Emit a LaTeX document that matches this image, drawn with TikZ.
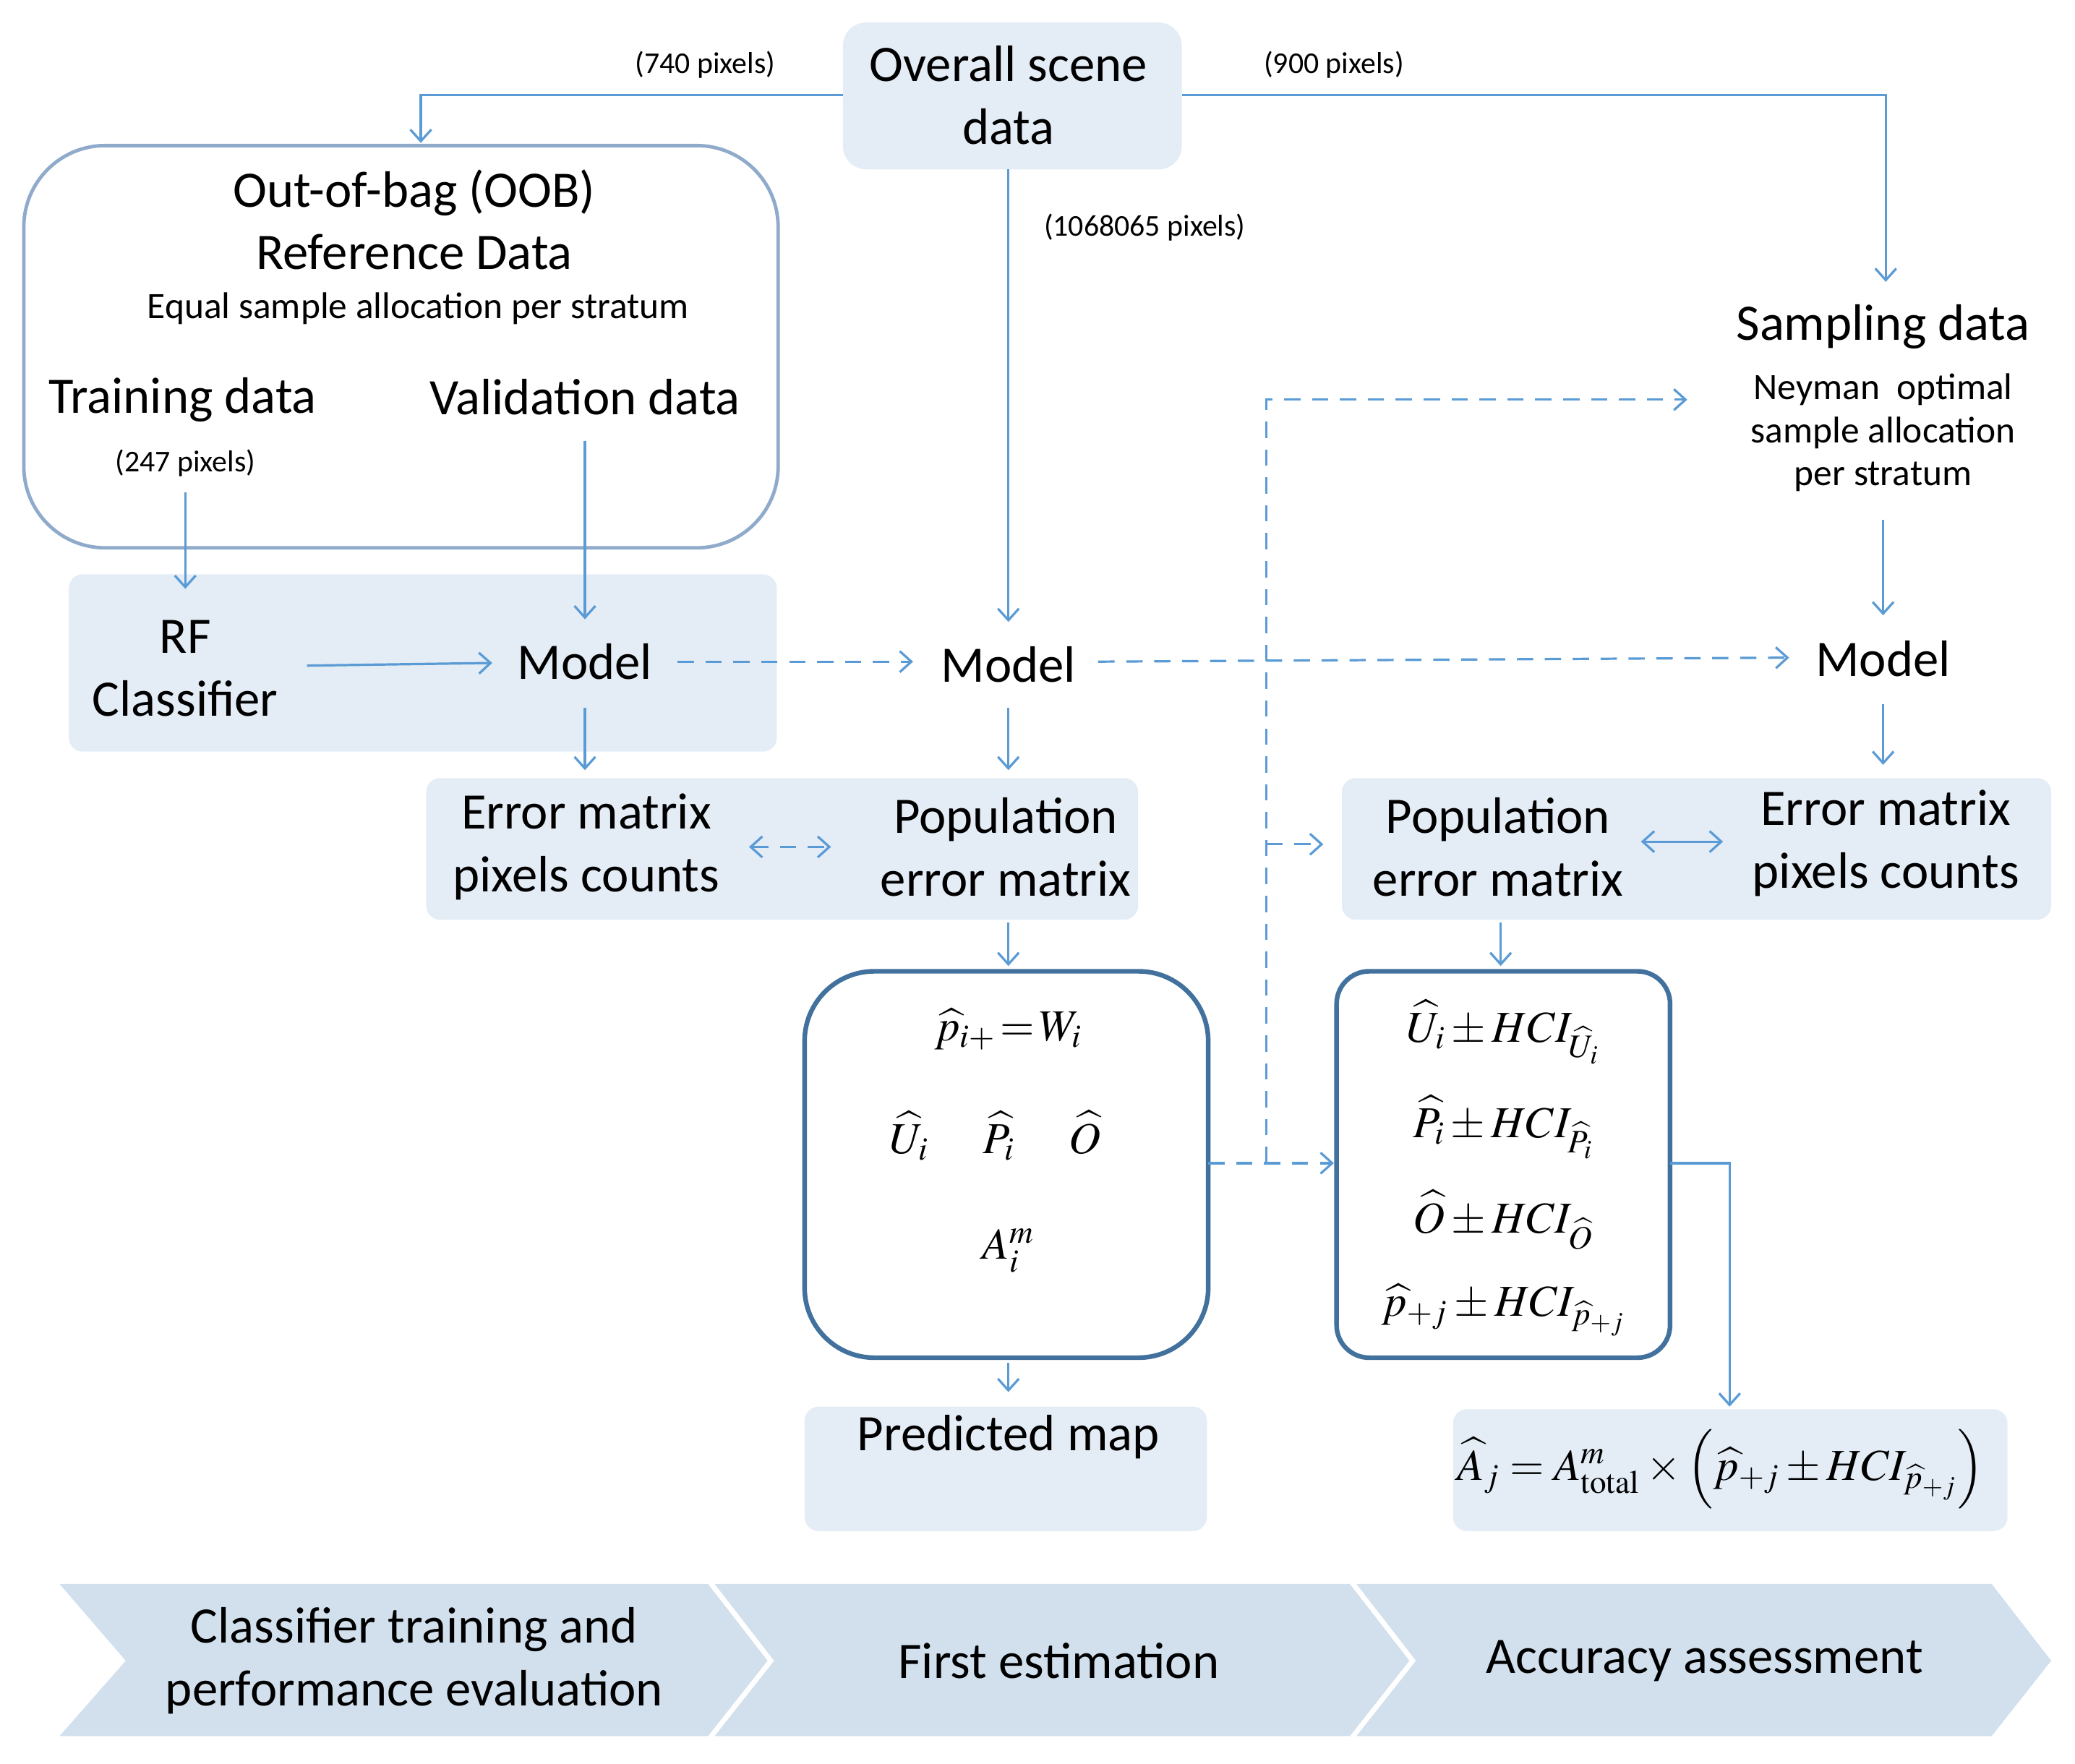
\documentclass[tikz,border=0pt]{standalone}
\usepackage{mathptmx}
\usepackage{fontspec}
\setmainfont{Carlito}
\usetikzlibrary{arrows.meta}
\definecolor{ar}{HTML}{5B9BD5}
\definecolor{pan}{HTML}{E4ECF6}
\definecolor{chev}{HTML}{D2E0EE}
\definecolor{bx}{HTML}{41719C}
\definecolor{ob}{HTML}{8FAACB}
\tikzset{
 x=0.02cm,y=-0.02cm,
 a/.style={draw=ar,line width=1pt,-{Straight Barb[length=5pt,width=9pt]}},
 da/.style={a,dashed,dash pattern=on 7pt off 5pt},
 pn/.style={fill=pan,rounded corners=6pt},
 t/.style={font=\fontsize{22}{27}\selectfont,align=center},
 s/.style={font=\fontsize{13}{15}\selectfont,align=center},
 m/.style={font=\fontsize{19}{23}\selectfont},
}
\begin{document}
\begin{tikzpicture}
\useasboundingbox (0,0) rectangle (1568,1333);
% panels
\fill[pan,rounded corners=10pt] (637,17) rectangle (893,128);
\fill[pn] (52,434) rectangle (587,568);
\fill[pn] (322,588) rectangle (860,695);
\fill[pn] (1014,588) rectangle (1550,695);
\fill[pn] (608,1063) rectangle (912,1157);
\fill[pn] (1098,1065) rectangle (1517,1157);
\draw[ob,line width=1.5pt,rounded corners=35pt] (18,110) rectangle (588,414);
\draw[bx,line width=2pt,rounded corners=30pt] (608,734) rectangle (913,1026);
\draw[bx,line width=2pt,rounded corners=14pt] (1010,734) rectangle (1262,1026);
% chevrons
\fill[chev] (45,1197) -- (535,1197) -- (580,1255) -- (535,1312) -- (45,1312) -- (95,1255) -- cycle;
\fill[chev] (540,1197) -- (1020,1197) -- (1065,1255) -- (1020,1312) -- (540,1312) -- (585,1255) -- cycle;
\fill[chev] (1025,1197) -- (1505,1197) -- (1550,1255) -- (1505,1312) -- (1025,1312) -- (1070,1255) -- cycle;
\node[t] (c1) at (313,1255) {Classifier training and\\performance evaluation};
\node[t] (c2) at (800,1255) {First estimation};
\node[t] (c3) at (1288,1255) {Accuracy assessment};
% texts
\node[t] (ov) at (762,72) {Overall scene\\data};
\node[t] (oob) at (313,166) {Out-of-bag (OOB)\\Reference Data};
\node[font=\fontsize{16}{18}\selectfont] (eq) at (316,233) {Equal sample allocation per stratum};
\node[t] (tr) at (138,302) {Training data};
\node[t] (va) at (442,300) {Validation data};
\node[s] (p247) at (140,350) {(247 pixels)};
\node[s] (p740) at (533,49) {(740 pixels)};
\node[s] (p900) at (1008,49) {(900 pixels)};
\node[s] (p106) at (865,172) {(1068065 pixels)};
\node[t] (rf) at (140,505) {RF\\Classifier};
\node[t] (m1) at (442,500) {Model};
\node[t] (m2) at (762,502) {Model};
\node[t] (m3) at (1423,498) {Model};
\node[t] (sd) at (1423,247) {Sampling data};
\node[font=\fontsize{16}{18.5}\selectfont,align=center] (ney) at (1423,327) {Neyman\ \ optimal\\sample allocation\\per stratum};
\node[t] (e1) at (443,640) {Error matrix\\pixels counts};
\node[t] (pe1) at (760,640) {Population\\error matrix};
\node[t] (pe2) at (1132,640) {Population\\error matrix};
\node[t] (e2) at (1425,637) {Error matrix\\pixels counts};
\node[t] (pm) at (762,1086) {Predicted map};
\node[m] (f1) at (762,778) {$\widehat{p}_{i+}\!=\!W_i$};
\node[m] (f2) at (752,858) {$\widehat{U}_i\quad\ \widehat{P}_i\quad\ \widehat{O}$};
\node[m] (f3) at (762,945) {$A_i^m$};
\node[m] (g1) at (1136,780) {$\widehat{U}_i\pm HCI_{\widehat{U}_i}$};
\node[m] (g2) at (1136,852) {$\widehat{P}_i\pm HCI_{\widehat{P}_i}$};
\node[m] (g3) at (1136,922) {$\widehat{O}\pm HCI_{\widehat{O}}$};
\node[m] (g4) at (1136,990) {$\widehat{p}_{+j}\pm HCI_{\widehat{p}_{+j}}$};
\node[m] (fa) at (1300,1110) {$\widehat{A}_j=A^m_{\mathrm{total}}\times\left(\widehat{p}_{+j}\pm HCI_{\widehat{p}_{+j}}\right)$};
% coordinates
\coordinate (o1) at (637,72); \coordinate (o2) at (318,108);
\coordinate (o3) at (893,72); \coordinate (o4) at (1425,213);
\draw[a] (o1) -- (318,72) -- (o2);
\draw[a] (o3) -- (1425,72) -- (o4);
\draw[a] (762,128) -- (762,470);
\draw[a] (140,372) -- (140,445);
\draw[a] (442,333) -- (442,468);
\draw[a] (232,503) -- (372,501);
\draw[da] (512,500) -- (690,500);
\draw[da] (830,500) -- (1352,497);
\draw[a] (1423,393) -- (1423,465);
\draw[a] (442,535) -- (442,582);
\draw[a] (762,535) -- (762,582);
\draw[a] (1423,532) -- (1423,578);
\draw[da,{Straight Barb[length=5pt,width=9pt]}-{Straight Barb[length=5pt,width=9pt]}] (566,640) -- (628,640);
\draw[a,{Straight Barb[length=5pt,width=9pt]}-{Straight Barb[length=5pt,width=9pt]}] (1240,636) -- (1302,636);
\draw[a] (762,697) -- (762,730);
\draw[a] (1134,697) -- (1134,730);
\draw[a] (762,1030) -- (762,1052);
\draw[da] (913,879) -- (1008,879);
\draw[da] (957,879) -- (957,302) -- (1275,302);
\draw[da] (957,638) -- (1000,638);
\draw[a] (1262,879) -- (1307,879) -- (1307,1063);
\end{tikzpicture}
\end{document}
